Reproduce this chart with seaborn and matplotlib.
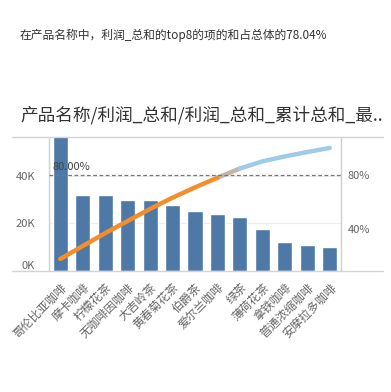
import numpy as np
import pandas as pd
import matplotlib
matplotlib.use("Agg")
import matplotlib.pyplot as plt
from matplotlib.lines import Line2D
import seaborn as sns

products = ["哥伦比亚咖啡", "摩卡咖啡", "柠檬花茶", "无咖啡因咖啡", "大吉岭茶", "黄春菊花茶",
            "伯爵茶", "爱尔兰咖啡", "绿茶", "薄荷花茶", "拿铁咖啡", "普通浓缩咖啡", "安摩拉多咖啡"]
profit = [59500, 32000, 32000, 30000, 30000, 27800, 25400, 24000, 22700, 17800, 12200, 10900, 10100]
left_ticks = [0, 20000, 40000]
left_tick_labels = ["0K", "20K", "40K"]
right_ticks = [40, 80]
right_tick_labels = ["40%", "80%"]
threshold = 80
top_n = 8
subtitle = "在产品名称中，利润_总和的top8的项的和占总体的78.04%"
title = "产品名称/利润_总和/利润_总和_累计总和_最.."

sns.set_theme(style="white")
plt.rcParams["font.family"] = ["Noto Sans CJK SC", "DejaVu Sans"]

df = pd.DataFrame({"product": products, "profit": profit})
df["cum_pct"] = np.cumsum(df["profit"]) / df["profit"].sum() * 100

fig = plt.figure(figsize=(3.91, 3.92), dpi=100)
W, H = 391, 392
ax = fig.add_axes([49 / W, 1 - 271 / H, (341 - 49) / W, (271 - 137) / H])

sns.barplot(data=df, x="product", y="profit", color="#4E79A7", saturation=1,
            width=0.67, ax=ax, zorder=2)
ax.set_xlim(-0.5, len(products) - 0.5)
ax.set_ylim(0, 56400)
ax.set_xlabel("")
ax.set_ylabel("")
ax.set_yticks(left_ticks)
ax.set_yticklabels(left_tick_labels, fontsize=8, color="#666666")
ax.yaxis.get_ticklabels()[0].set_va("bottom")
ax.tick_params(axis="y", length=0, pad=10)
ax.set_xticks(range(len(products)))
ax.set_xticklabels(products, rotation=45, ha="right", va="top", rotation_mode="anchor",
                   fontsize=8.5, color="#666666")
ax.tick_params(axis="x", length=3, color="#e0e0e0", pad=4, width=0.6)
for y in left_ticks[1:]:
    ax.axhline(y, color="#ececec", lw=0.8, zorder=0)
for s in ["top", "bottom"]:
    ax.spines[s].set_visible(False)
for s in ["left", "right"]:
    ax.spines[s].set_color("#d0d0d0")
    ax.spines[s].set_linewidth(1)

ax2 = ax.twinx()
ax2.set_ylim(8.9, 108.1)
ax2.set_yticks(right_ticks)
ax2.set_yticklabels(right_tick_labels, fontsize=8, color="#666666")
ax2.tick_params(axis="y", length=0, pad=5)
for s in ax2.spines.values():
    s.set_visible(False)

x = np.arange(len(products))
cp = df["cum_pct"].values
ax2.plot(x[:top_n], cp[:top_n], color="#F28E2B", lw=3.2, solid_capstyle="round", zorder=4)
ax2.plot(x[top_n - 1:top_n + 1], cp[top_n - 1:top_n + 1], color="#c2b6a6", lw=3.2,
         solid_capstyle="round", zorder=3)
ax2.plot(x[top_n:], cp[top_n:], color="#A0CBE8", lw=3.2, solid_capstyle="round", zorder=4)
ax2.axhline(threshold, color="#777777", lw=0.9, ls=(0, (3, 2)), zorder=5)
ax2.text(-0.35, threshold + 2.5, "80.00%", fontsize=8, color="#444444", va="bottom", ha="left")

# frame lines spanning beyond the axes
fig.add_artist(Line2D([12 / W, 383 / W], [1 - 137 / H] * 2, color="#d4d4d4", lw=1))
fig.add_artist(Line2D([12 / W, 383 / W], [1 - 271 / H] * 2, color="#d4d4d4", lw=1))

fig.text(20 / W, 1 - 35 / H, subtitle, fontsize=8.5, color="#333333", va="center", ha="left")
fig.text(20 / W, 1 - 115 / H, title, fontsize=12.7, color="#333333", va="center", ha="left")

fig.savefig("out.png", dpi=100, facecolor="white")
